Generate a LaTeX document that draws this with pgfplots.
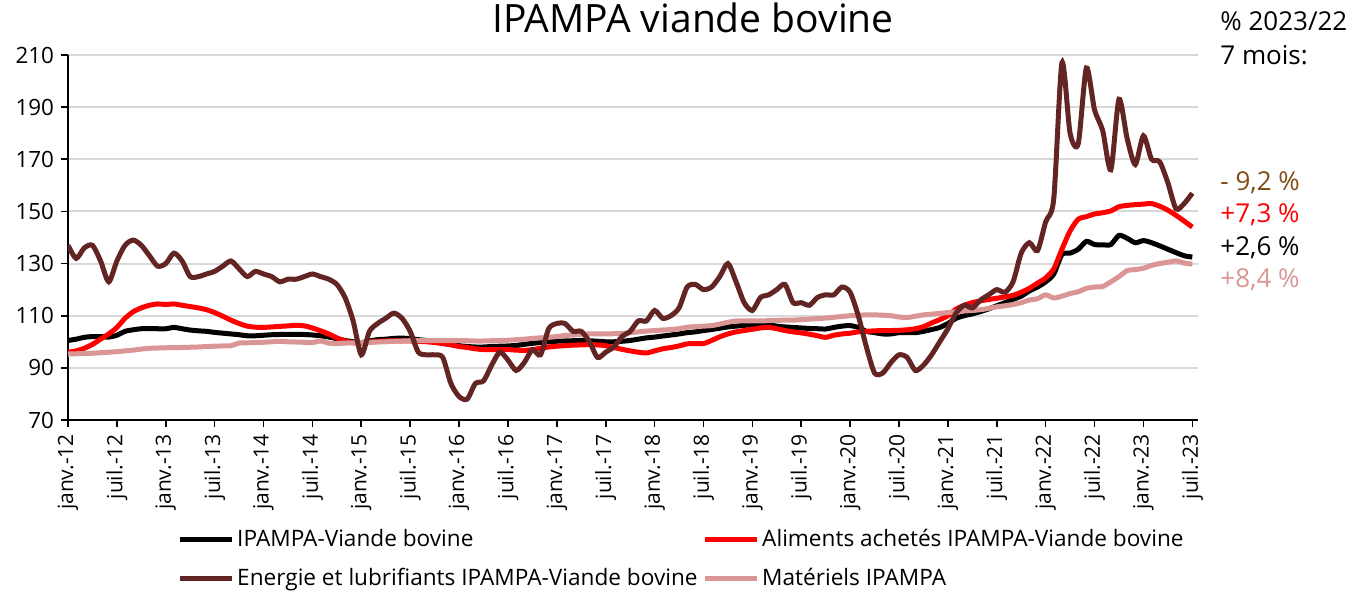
\documentclass[border=0pt]{standalone}
\usepackage{pgfplots}
\usepackage{pgfplotstable}
\pgfplotsset{compat=1.18}
\usepackage{fontspec}
\setmainfont{Open Sans}
\definecolor{cBrown}{HTML}{632523}
\definecolor{cPink}{HTML}{D99694}
\definecolor{cAnn}{HTML}{7F4C14}
\definecolor{cGrid}{HTML}{D9D9D9}
\pgfplotstableread{
m k r e p
0 100.5 96 137 95.3
1 101 96.5 132 95.4
2 101.7 97.5 136 95.5
3 102 99 137 95.6
4 102 101 131 95.8
5 101.8 103 123 96
6 102.5 105.5 131 96.2
7 104 109 137 96.5
8 104.6 111.5 139 96.8
9 105 113 137 97.2
10 105 114 133 97.5
11 105 114.5 129 97.6
12 105 114.3 130 97.7
13 105.5 114.5 134 97.8
14 105 114 131 97.8
15 104.5 113.5 125 97.9
16 104.2 113 125 98
17 104 112.3 126 98.2
18 103.6 111.2 127 98.3
19 103.3 109.8 129 98.4
20 103 108.3 131 98.5
21 102.7 107 128 99.5
22 102.3 106 125 99.6
23 102.3 105.6 127 99.7
24 102.5 105.5 126 99.8
25 102.7 105.7 125 100
26 102.8 105.9 123 100.2
27 102.8 106.1 124 100
28 102.8 106.3 124 99.9
29 102.8 106.1 125 99.8
30 102.6 105.3 126 99.7
31 102.3 104.2 125 100.3
32 101.8 103 124 99.5
33 101.2 101.5 122 99.3
34 100.5 100.3 117 99.5
35 100 99.6 108 99.6
36 99.7 99.5 95 99.7
37 100.3 99.8 104 99.8
38 100.8 100.2 107 99.9
39 101 100.3 109 100
40 101.3 100.3 111 100.2
41 101.4 100.3 109 100.3
42 101.2 100.3 104 100.4
43 100.8 100.2 96 100.4
44 100.5 100 95 100.4
45 100 99.7 95 100.4
46 99.5 99.3 94 100.4
47 99 98.8 84 100.4
48 98.5 98.2 79 100.4
49 98.2 97.8 78 100.4
50 98 97.3 84 100.3
51 98 97 85 100.3
52 98.2 97 91 100.4
53 98.3 97 96 100.5
54 98.4 97 93 100.6
55 98.6 96.8 89 100.8
56 99 96.7 92 101
57 99.4 97 97 101.3
58 99.7 97.5 95 101.5
59 100 98 105 101.7
60 100.2 98.3 107 102
61 100.3 98.5 107 102.4
62 100.4 98.7 104 102.6
63 100.5 98.8 104 102.9
64 100.4 98.9 100 103
65 100.2 98.8 94 103
66 100 98.5 96 103
67 100 97.8 98 103.1
68 100.2 97.1 102 103.2
69 100.5 96.5 104 103.5
70 101 96 108 103.8
71 101.5 95.7 108 104.1
72 101.8 96.5 112 104.3
73 102.2 97.3 109 104.5
74 102.6 97.8 110 104.7
75 103 98.4 113 105
76 103.5 99.2 121 105.6
77 103.8 99.3 122 105.8
78 104.3 99.3 120 106
79 104.7 100.5 121 106.2
80 105.2 101.9 125 106.8
81 105.7 103 130 107.5
82 106 103.8 123 108
83 106.3 104.3 115 108
84 106.5 104.8 112 108
85 106.6 105.3 117 108
86 106.5 105.5 118 108.1
87 106 105 120 108.2
88 105.7 104.3 122 108.3
89 105.5 103.8 115 108.3
90 105.3 103.4 115 108.5
91 105.1 102.9 114 108.7
92 105 102.3 117 108.9
93 104.9 101.7 118 109.1
94 105.5 102.5 118 109.4
95 106 103 121 109.7
96 106.2 103.3 119 110
97 105.5 103.8 110 110.2
98 104 104 98 110.3
99 103.5 104.2 88 110.3
100 103 104.3 88 110.2
101 103 104.3 92 110
102 103.5 104.4 95 109.5
103 103.5 104.6 94 109.3
104 103.5 105 89 109.8
105 104 105.8 91 110.3
106 104.7 107.2 95 110.6
107 105.5 108.5 100 110.9
108 107 110 105 111.2
109 109 112.5 111 111.5
110 110 114 114 111.8
111 110.7 115 113 112
112 111.6 115.7 116 112.3
113 112.6 116.2 118 112.8
114 113.8 116.7 120 113.4
115 115 117.2 119 113.8
116 116.3 117.8 123 114.3
117 117.5 119 134 115
118 119.5 120.5 138 116
119 121 122.5 135 116.5
120 123 124.5 146 118
121 126 128 155 116.8
122 133.5 135.5 207 117.5
123 134 142.5 180 118.5
124 135.5 147 176 119.2
125 138.5 148 205 120.5
126 137.3 149 189 121
127 137.2 149.5 181 121.2
128 137.3 150.2 166 123
129 140.8 151.8 193 125
130 139.7 152.3 178 127.3
131 138 152.6 168 127.7
132 138.8 152.8 179 128.2
133 138 153 170 129.3
134 136.8 152 169 130
135 135.5 150.5 161 130.5
136 134.2 148.5 151 131
137 133 146.3 153 130.2
138 132.5 144 157 129.8
}\datatable
\begin{document}
\begin{tikzpicture}
\begin{axis}[
  at={(34pt,86pt)}, anchor=south west,
  scale only axis, width=565pt, height=182.5pt,
  xmin=0, xmax=138.7, ymin=70, ymax=210,
  ytick={70,90,...,210},
  xtick={0,6,...,138},
  xticklabels={janv.-12,juil.-12,janv.-13,juil.-13,janv.-14,juil.-14,janv.-15,juil.-15,janv.-16,juil.-16,janv.-17,juil.-17,janv.-18,juil.-18,janv.-19,juil.-19,janv.-20,juil.-20,janv.-21,juil.-21,janv.-22,juil.-22,janv.-23,juil.-23},
  x tick label style={rotate=90, anchor=east, font=\fontsize{10.5}{12}\selectfont},
  y tick label style={font=\fontsize{11.2}{13}\selectfont},
  axis x line*=bottom, axis y line*=left,
  axis line style={black, line width=1pt},
  tick align=outside, major tick length=3.5pt,
  tick style={black, line width=0.8pt},
  ymajorgrids, grid style={cGrid, line width=1pt},
  /pgf/number format/assume math mode=true,
  legend columns=2,
  legend style={at={(0.091,-0.28)}, anchor=north west, draw=none, fill=none,
    font=\fontsize{11.3}{13}\selectfont, row sep=6pt,
    nodes={inner sep=1.5pt}},
  legend cell align=left,
  legend image code/.code={\draw[#1, line width=2.5pt] (0pt,0pt) -- (26pt,0pt);},
  every axis plot/.append style={line width=2.5pt, smooth, tension=0.45},
]
\addlegendimage{black}
\addlegendentry{\makebox[231pt][l]{IPAMPA-Viande bovine}}
\addlegendimage{red}
\addlegendentry{Aliments achetés IPAMPA-Viande bovine}
\addlegendimage{cBrown}
\addlegendentry{\makebox[231pt][l]{Energie et lubrifiants IPAMPA-Viande bovine}}
\addlegendimage{cPink}
\addlegendentry{Matériels IPAMPA}
\addplot[black, forget plot] table[x=m, y=k] {\datatable};
\addplot[red, forget plot] table[x=m, y=r] {\datatable};
\addplot[cPink, forget plot] table[x=m, y=p] {\datatable};
\addplot[cBrown, forget plot] table[x=m, y=e] {\datatable};
\end{axis}
\node[font=\fontsize{19.5}{22}\selectfont] at (346.5pt,287pt) {IPAMPA viande bovine};
\begin{scope}[every node/.style={anchor=west, inner sep=0pt, font=\fontsize{13}{15}\selectfont}]
\node at (610pt,285.5pt) {\% 2023/22};
\node at (610pt,268.5pt) {7 mois:};
\node[text=cAnn] at (610pt,204.5pt) {- 9,2 \%};
\node[text=red] at (610pt,188.5pt) {+7,3 \%};
\node at (610pt,172pt) {+2,6 \%};
\node[text=cPink] at (610pt,156pt) {+8,4 \%};
\end{scope}
\pgfresetboundingbox
\useasboundingbox (0,0) rectangle (678pt,296pt);
\end{tikzpicture}
\end{document}
